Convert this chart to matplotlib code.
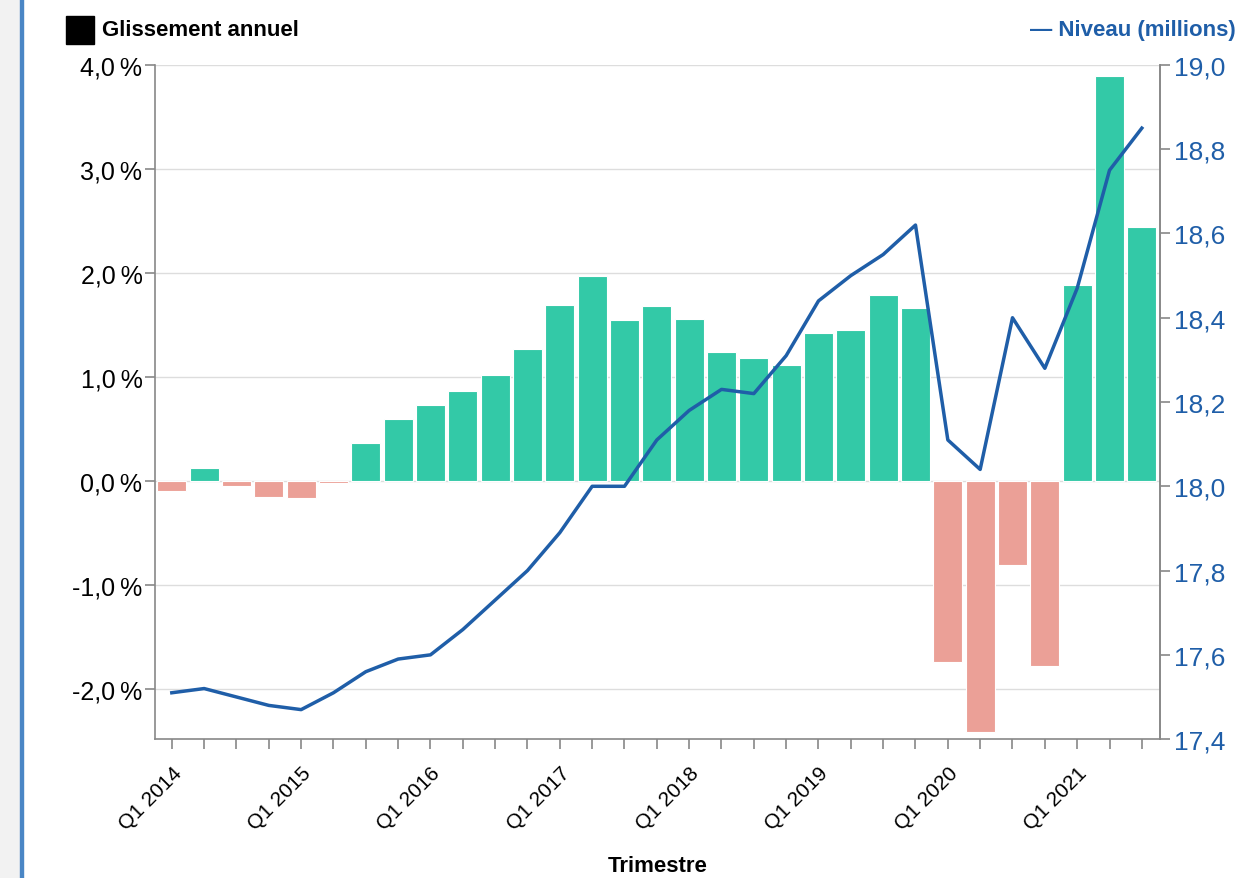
import numpy as np
import matplotlib.pyplot as plt
from matplotlib.patches import Rectangle

plt.rcParams['font.family'] = ['Liberation Sans', 'DejaVu Sans']

# Quarterly data, Q1 2014 .. Q3 2021
quarters = [f"Q{q} {y}" for y in range(2014, 2022) for q in range(1, 5)][:31]
glissement = [-0.10, 0.13, -0.05, -0.15, -0.16, -0.02, 0.37, 0.60, 0.73, 0.87,
              1.02, 1.27, 1.69, 1.97, 1.55, 1.68, 1.56, 1.24, 1.18, 1.12,
              1.42, 1.45, 1.79, 1.66, -1.74, -2.41, -0.81, -1.78, 1.88, 3.89,
              2.44]
niveau = [17.51, 17.52, 17.50, 17.48, 17.47, 17.51, 17.56, 17.59, 17.60, 17.66,
          17.73, 17.80, 17.89, 18.00, 18.00, 18.11, 18.18, 18.23, 18.22, 18.31,
          18.44, 18.50, 18.55, 18.62, 18.11, 18.04, 18.40, 18.28, 18.47, 18.75,
          18.85]
left_ticks = [-2.0, -1.0, 0.0, 1.0, 2.0, 3.0, 4.0]
right_ticks = [17.4, 17.6, 17.8, 18.0, 18.2, 18.4, 18.6, 18.8, 19.0]

teal = '#33c9a7'
salmon = '#eba097'
blue = '#1f5ea8'
grey = '#888888'

fig = plt.figure(figsize=(12.55, 8.79), dpi=100)
# page frame at the left edge
fig.patches.append(Rectangle((0, 0), 0.016, 1, transform=fig.transFigure,
                             color='#f2f2f2', zorder=0))
fig.patches.append(Rectangle((0.016, 0), 0.002, 1, transform=fig.transFigure,
                             color='#4a86c5', zorder=0))

ax = fig.add_axes([0.1235, 0.158, 0.8005, 0.767])
x = np.arange(len(quarters))
colors = [teal if v >= 0 else salmon for v in glissement]
ax.bar(x, glissement, width=0.9, color=colors, edgecolor='white', linewidth=0.8, zorder=2)

ax.set_xlim(-0.52, len(quarters) - 0.45)
ax.set_ylim(-2.48, 4.0)
ax.set_yticks(left_ticks)
ax.set_yticklabels([f"{v:.1f}".replace('.', ',') + "\u2009%" for v in left_ticks])
ax.grid(axis='y', color='#dddddd', linewidth=1, zorder=0)
ax.set_axisbelow(True)

ax.set_xticks(x)
ax.set_xticklabels([q if q.startswith('Q1') else '' for q in quarters],
                   rotation=45, ha='right', rotation_mode='anchor', fontsize=15)
ax.set_xlabel('Trimestre', fontsize=16, fontweight='bold', labelpad=16)

ax.spines['top'].set_visible(False)
for side in ['left', 'bottom', 'right']:
    ax.spines[side].set_color(grey)
    ax.spines[side].set_linewidth(1.2)
ax.tick_params(axis='y', labelsize=18, color=grey, length=7, width=1.2, pad=2)
ax.tick_params(axis='x', color=grey, length=7, width=1.2, pad=10)

ax2 = ax.twinx()
ax2.plot(x, niveau, color=blue, linewidth=2.5, zorder=3)
ax2.set_ylim(17.4, 19.0)
ax2.set_yticks(right_ticks)
ax2.set_yticklabels([f"{v:.1f}".replace('.', ',') for v in right_ticks])
ax2.tick_params(axis='y', labelsize=19, colors=blue, length=7, width=1.2, pad=3)
ax2.tick_params(axis='y', color=grey)
for side in ['top', 'left', 'bottom']:
    ax2.spines[side].set_visible(False)
ax2.spines['right'].set_color(grey)
ax2.spines['right'].set_linewidth(1.2)

# headers
fig.patches.append(Rectangle((0.0525, 0.949), 0.0225, 0.032, transform=fig.transFigure,
                             color='black'))
fig.text(0.081, 0.965, 'Glissement annuel', fontsize=16, fontweight='bold',
         va='center', ha='left')
fig.text(0.985, 0.965, '\u2014 Niveau (millions)', fontsize=16, fontweight='bold',
         color=blue, va='center', ha='right')

fig.savefig('out.png', dpi=100)
